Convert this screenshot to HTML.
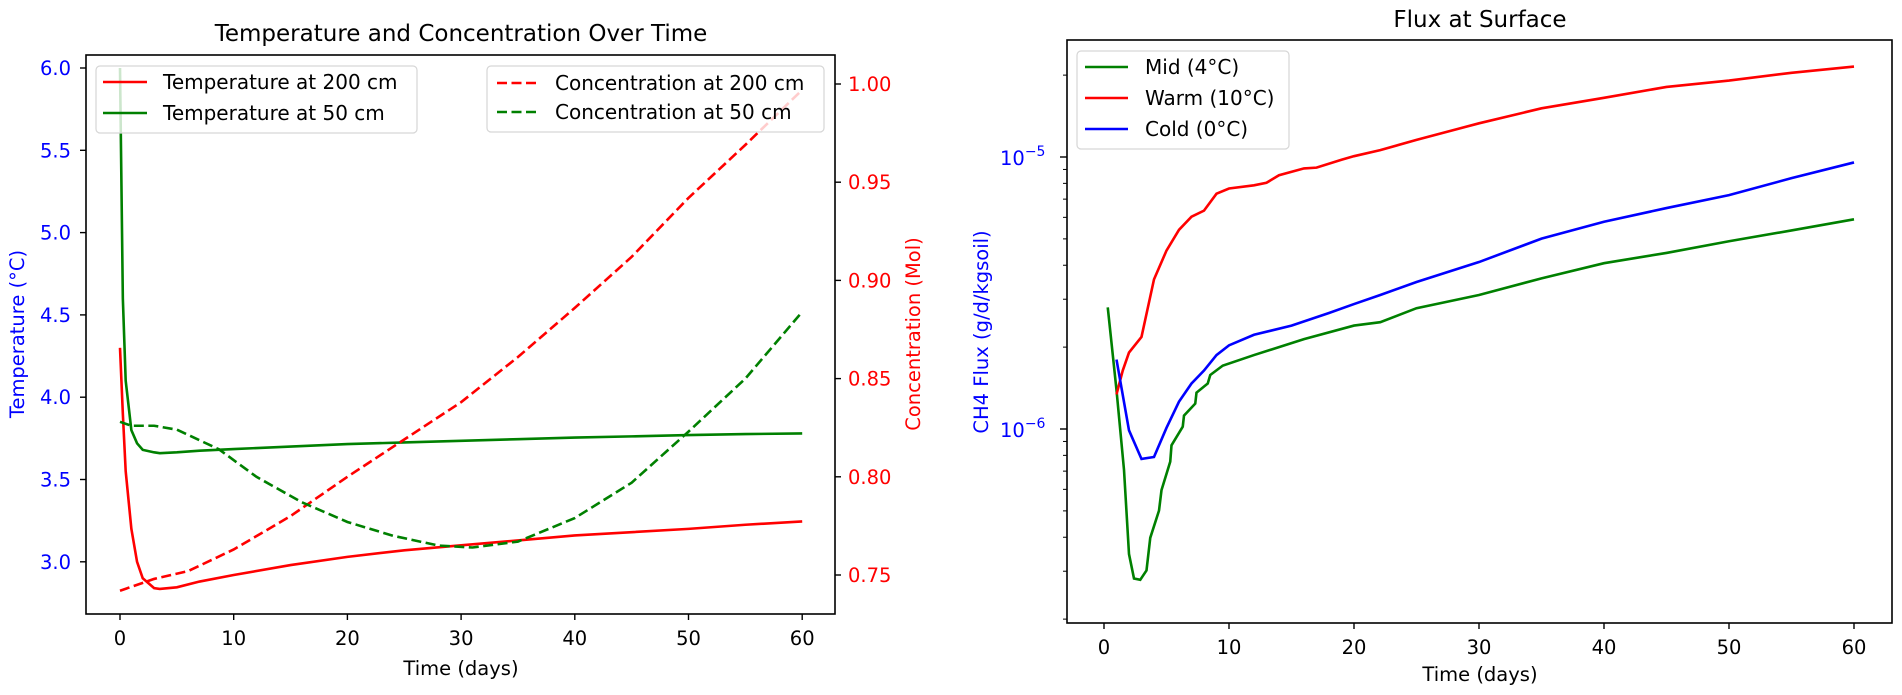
<!DOCTYPE html>
<html><head><meta charset="utf-8">
<style>
html,body{margin:0;padding:0;background:#fff;}
svg{display:block;font-family:"DejaVu Sans","Liberation Sans",sans-serif;}
</style></head>
<body>
<svg id="chart" width="1902" height="695" viewBox="0 0 1902 695" xmlns="http://www.w3.org/2000/svg">
<g id="left"></g>
<g id="right"></g>
</svg>
<script>
// ---- Left chart data ----
const tempDays = [0,0.25,0.5,1,1.5,2,3,3.5,5,7,10,15,20,25,30,35,40,45,50,55,60];
const temp200 = [4.3,3.9,3.55,3.2,3.0,2.9,2.84,2.835,2.845,2.88,2.92,2.98,3.03,3.07,3.10,3.13,3.16,3.18,3.20,3.225,3.245];
const temp50 = [6.0,4.6,4.1,3.8,3.72,3.68,3.665,3.66,3.665,3.675,3.685,3.70,3.715,3.725,3.735,3.745,3.755,3.762,3.77,3.776,3.78];
const conc200Days = [0,3,6,10,15,20,25,30,35,40,45,50,55,60];
const conc200 = [0.742,0.748,0.752,0.763,0.780,0.800,0.819,0.838,0.861,0.886,0.912,0.942,0.969,0.997];
const conc50Days = [0,1,3,5,8.7,12,16,20,24,28,31,35,40,45,50,55,60];
const conc50 = [0.828,0.826,0.826,0.824,0.814,0.800,0.787,0.777,0.770,0.765,0.764,0.767,0.779,0.797,0.823,0.850,0.884];
const leftXTicks = [0,10,20,30,40,50,60];
const tempTicks = ["3.0","3.5","4.0","4.5","5.0","5.5","6.0"];
const concTicks = ["0.75","0.80","0.85","0.90","0.95","1.00"];
// ---- Right chart data ----
const midDays = [0.3,1,1.6,2,2.4,2.9,3.4,3.7,4.4,4.6,5.3,5.4,6.3,6.4,7.3,7.4,8.3,8.5,9.5,12,16,20,22.1,25,30,35,40,45,50,55,60];
const midFlux = [2.80e-6,1.39e-6,7.08e-7,3.47e-7,2.82e-7,2.79e-7,3.02e-7,3.98e-7,5.01e-7,5.96e-7,7.59e-7,8.71e-7,1.02e-6,1.12e-6,1.24e-6,1.36e-6,1.47e-6,1.58e-6,1.71e-6,1.87e-6,2.14e-6,2.40e-6,2.47e-6,2.78e-6,3.11e-6,3.58e-6,4.07e-6,4.44e-6,4.90e-6,5.37e-6,5.90e-6];
const coldDays = [1,2,3,4,5,6,7,8,9,10,12,15,18,20,22.1,25,30,35,40,45,50,55,60];
const coldFlux = [1.80e-6,9.89e-7,7.76e-7,7.89e-7,1.01e-6,1.26e-6,1.47e-6,1.64e-6,1.87e-6,2.03e-6,2.22e-6,2.40e-6,2.67e-6,2.88e-6,3.11e-6,3.47e-6,4.11e-6,5.01e-6,5.78e-6,6.49e-6,7.24e-6,8.36e-6,9.55e-6];
const warmDays = [1,1.5,2,3,4,5,6,7,8,9,10,12,13,14,16,17,19,20,22.1,25,30,35,40,45,50,55,60];
const warmFlux = [1.34e-6,1.64e-6,1.91e-6,2.18e-6,3.55e-6,4.53e-6,5.40e-6,6.03e-6,6.35e-6,7.33e-6,7.66e-6,7.87e-6,8.04e-6,8.57e-6,9.08e-6,9.14e-6,9.77e-6,1.007e-5,1.06e-5,1.156e-5,1.33e-5,1.51e-5,1.65e-5,1.81e-5,1.91e-5,2.04e-5,2.15e-5];
const rightXTicks = [0,10,20,30,40,50,60];
const logMajor = [-6,-5];

const NS="http://www.w3.org/2000/svg";
function mk(parent,tag,attrs,text){const e=document.createElementNS(NS,tag);for(const k in attrs)e.setAttribute(k,attrs[k]);if(text!==undefined)e.textContent=text;parent.appendChild(e);return e;}
function pathD(xs,ys,fx,fy){return xs.map((x,i)=>(i?"L":"M")+fx(x).toFixed(2)+","+fy(ys[i]).toFixed(2)).join("");}

// ===== Left chart =====
const L=document.getElementById('left');
const lx0=86,lx1=835,ly0=55,ly1=614;
const lxS=d=>120+d*11.37;
const tY=v=>68+(6.0-v)*164.6;
const cY=v=>84+(1.0-v)*1964;
let t;
t=mk(L,'text',{x:461,y:41,'text-anchor':'middle','font-size':23,fill:'#000'},'Temperature and Concentration Over Time');

let p;
p=mk(L,'path',{d:pathD(tempDays,temp200,lxS,tY),fill:'none',stroke:'#ff0000','stroke-width':2.6});

p=mk(L,'path',{d:pathD(tempDays,temp50,lxS,tY),fill:'none',stroke:'#008000','stroke-width':2.6});

p=mk(L,'path',{d:pathD(conc200Days,conc200,lxS,cY),fill:'none',stroke:'#ff0000','stroke-width':2.6,'stroke-dasharray':'10,4.5'});

p=mk(L,'path',{d:pathD(conc50Days,conc50,lxS,cY),fill:'none',stroke:'#008000','stroke-width':2.6,'stroke-dasharray':'10,4.5'});

let r=mk(L,'rect',{x:lx0,y:ly0,width:lx1-lx0,height:ly1-ly0,fill:'none',stroke:'#000','stroke-width':1.6});

leftXTicks.forEach(d=>{const x=lxS(d);mk(L,'line',{x1:x,y1:ly1,x2:x,y2:ly1+6,stroke:'#000','stroke-width':1.4});
 const e=mk(L,'text',{x:x,y:645,'text-anchor':'middle','font-size':19.5,fill:'#000'},String(d));
 });
tempTicks.forEach(s=>{const y=tY(parseFloat(s));mk(L,'line',{x1:lx0-6,y1:y,x2:lx0,y2:y,stroke:'#000','stroke-width':1.4});
 const e=mk(L,'text',{x:71,y:y+7,'text-anchor':'end','font-size':19.5,fill:'#0000ff'},s);
 });
concTicks.forEach(s=>{const y=cY(parseFloat(s));mk(L,'line',{x1:lx1,y1:y,x2:lx1+6,y2:y,stroke:'#000','stroke-width':1.4});
 const e=mk(L,'text',{x:848,y:y+7,'text-anchor':'start','font-size':19.5,fill:'#ff0000'},s);
 });
t=mk(L,'text',{x:461,y:675,'text-anchor':'middle','font-size':19.5,fill:'#000'},'Time (days)');

t=mk(L,'text',{x:0,y:0,'text-anchor':'middle','font-size':19.5,fill:'#0000ff',transform:'translate(24,334) rotate(-90)'},'Temperature (°C)');

t=mk(L,'text',{x:0,y:0,'text-anchor':'middle','font-size':19.5,fill:'#ff0000',transform:'translate(920,334) rotate(-90)'},'Concentration (Mol)');

let lg=mk(L,'g',{});
mk(lg,'rect',{x:96,y:66,width:321,height:67,rx:4,fill:'rgba(255,255,255,0.8)',stroke:'#d6d6d6','stroke-width':1.2});
mk(lg,'line',{x1:103,y1:82,x2:147,y2:82,stroke:'#ff0000','stroke-width':2.6});
mk(lg,'line',{x1:103,y1:113,x2:147,y2:113,stroke:'#008000','stroke-width':2.6});
t=mk(lg,'text',{x:163,y:89,'font-size':20,fill:'#000'},'Temperature at 200 cm');
t=mk(lg,'text',{x:163,y:120,'font-size':20,fill:'#000'},'Temperature at 50 cm');
lg=mk(L,'g',{});
mk(lg,'rect',{x:487,y:66,width:337,height:66,rx:4,fill:'rgba(255,255,255,0.8)',stroke:'#d6d6d6','stroke-width':1.2});
mk(lg,'line',{x1:497,y1:83,x2:537,y2:83,stroke:'#ff0000','stroke-width':2.6,'stroke-dasharray':'10,4.5'});
mk(lg,'line',{x1:497,y1:112,x2:537,y2:112,stroke:'#008000','stroke-width':2.6,'stroke-dasharray':'10,4.5'});
t=mk(lg,'text',{x:555,y:90,'font-size':20,fill:'#000'},'Concentration at 200 cm');
t=mk(lg,'text',{x:555,y:119,'font-size':20,fill:'#000'},'Concentration at 50 cm');

// ===== Right chart =====
const R=document.getElementById('right');
const rx0=1067,rx1=1892,ry0=40,ry1=623;
const rxS=d=>1104+d*12.5;
const fY=v=>157+(-5-Math.log10(v))*272;
t=mk(R,'text',{x:1480,y:27,'text-anchor':'middle','font-size':23,fill:'#000'},'Flux at Surface');

p=mk(R,'path',{d:pathD(midDays,midFlux,rxS,fY),fill:'none',stroke:'#008000','stroke-width':2.6});

p=mk(R,'path',{d:pathD(warmDays,warmFlux,rxS,fY),fill:'none',stroke:'#ff0000','stroke-width':2.6});

p=mk(R,'path',{d:pathD(coldDays,coldFlux,rxS,fY),fill:'none',stroke:'#0000ff','stroke-width':2.6});

r=mk(R,'rect',{x:rx0,y:ry0,width:rx1-rx0,height:ry1-ry0,fill:'none',stroke:'#000','stroke-width':1.6});

rightXTicks.forEach(d=>{const x=rxS(d);mk(R,'line',{x1:x,y1:ry1,x2:x,y2:ry1+6,stroke:'#000','stroke-width':1.4});
 const e=mk(R,'text',{x:x,y:654,'text-anchor':'middle','font-size':19.5,fill:'#000'},String(d));
 });
[-7,-6,-5].forEach(ex=>{for(let m=2;m<=9;m++){const v=m*Math.pow(10,ex);const y=fY(v);if(y<ry0||y>ry1)continue;
 mk(R,'line',{x1:rx0-4,y1:y,x2:rx0,y2:y,stroke:'#000','stroke-width':1});}});
logMajor.forEach(ex=>{const y=fY(Math.pow(10,ex));mk(R,'line',{x1:rx0-7,y1:y,x2:rx0,y2:y,stroke:'#000','stroke-width':1.4});
 const e=mk(R,'text',{x:1000,y:y+8,'font-size':19.5,fill:'#0000ff'});
 
 mk(e,'tspan',{},'10');mk(e,'tspan',{dy:-9,'font-size':14},'−'+Math.abs(ex));});
t=mk(R,'text',{x:1480,y:681,'text-anchor':'middle','font-size':19.5,fill:'#000'},'Time (days)');

t=mk(R,'text',{x:0,y:0,'text-anchor':'middle','font-size':19.5,fill:'#0000ff',transform:'translate(988,332) rotate(-90)'},'CH4 Flux (g/d/kgsoil)');

lg=mk(R,'g',{});
mk(lg,'rect',{x:1077,y:51,width:212,height:98,rx:4,fill:'rgba(255,255,255,0.8)',stroke:'#d6d6d6','stroke-width':1.2});
[['Mid (4°C)','#008000',67],['Warm (10°C)','#ff0000',98],['Cold (0°C)','#0000ff',129]].forEach(a=>{
 mk(lg,'line',{x1:1085,y1:a[2],x2:1128,y2:a[2],stroke:a[1],'stroke-width':2.6});
 const e=mk(lg,'text',{x:1145,y:a[2]+7,'font-size':20,fill:'#000'},a[0]);
 });
</script>
</body></html>
